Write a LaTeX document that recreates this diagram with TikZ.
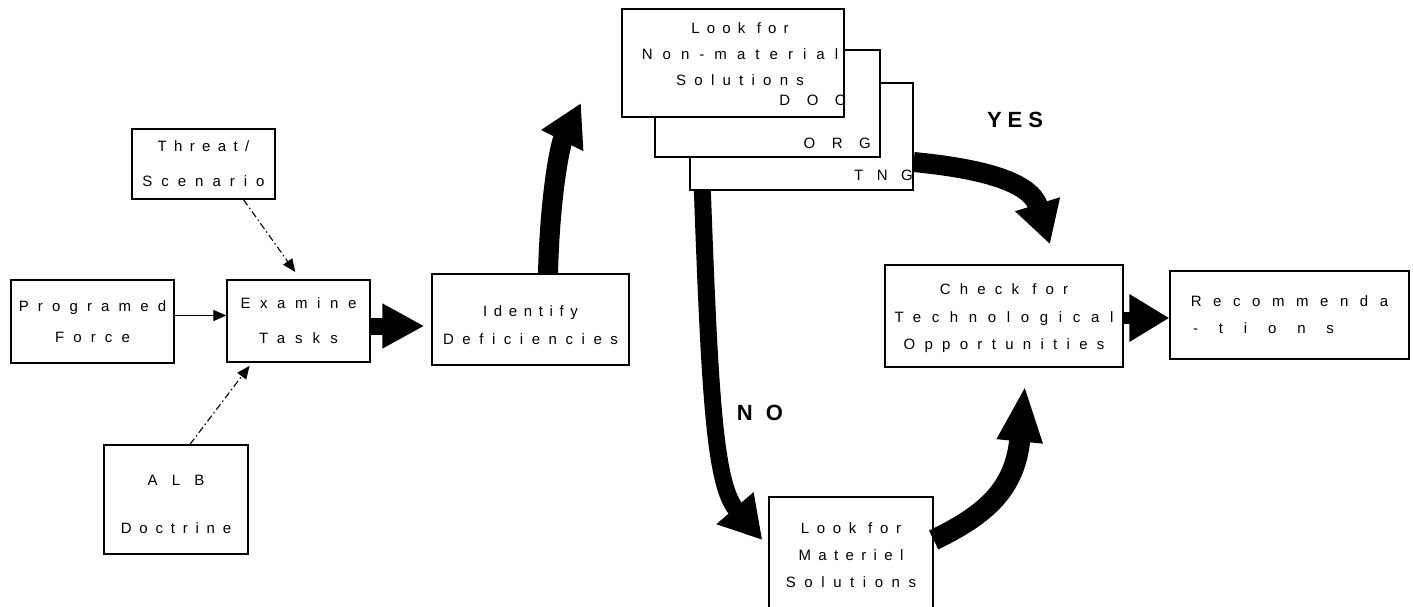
\documentclass[tikz,border=0pt]{standalone}
\usepackage{fontspec}
\setmainfont{Liberation Sans}
\usetikzlibrary{arrows.meta}

% letter-spaced text: \trk{<tracking in percent of the font size>}{<text>}
\newcommand{\trk}[2]{{\addfontfeature{LetterSpace=#1}#2}}
% invisible strut that pushes a text block down inside its box
\newcommand{\dropby}[1]{\rule{0pt}{#1}}

\tikzset{
  box/.style={draw, line width=1.3pt, fill=white, inner sep=0pt, align=center},
  lines/.style={font=\fontsize{15}{#1}\selectfont},
  tag/.style={inner sep=0pt, font=\fontsize{15}{18}\selectfont},
  answer/.style={inner sep=0pt, font=\fontsize{22}{26}\selectfont\bfseries},
  thin/.style={line width=1.1pt, -{Triangle[length=13pt,width=11pt]}},
  dashdot/.style={dash pattern=on 7pt off 3pt on 1.5pt off 3pt},
  fat/.style={line width=#1, line cap=butt},
}

\begin{document}
\begin{tikzpicture}[x=1pt, y=-1pt]
\useasboundingbox (0,0) rectangle (1413,607);
\clip (0,0) rectangle (1413,607);
\fill[white] (0,0) rectangle (1413,607);

% left-hand chain
\node[box, minimum width=143pt, minimum height=70pt, lines=35] (threat) at (203.5,164)
  {\trk{49}{Threat/}\\\trk{60}{Scenario}};
\node[box, minimum width=163pt, minimum height=83pt, lines=31] (prog) at (92.5,321.5)
  {\trk{61}{Programed}\\\trk{61}{Force}};
\node[box, minimum width=143pt, minimum height=82pt, lines=35] (exam) at (298.5,321)
  {\trk{64}{Examine}\\\trk{67}{Tasks}};
\node[box, minimum width=144pt, minimum height=109pt, lines=48] (alb) at (176,499.5)
  {\dropby{21pt}\trk{95}{ALB}\\\trk{52}{Doctrine}};
\node[box, minimum width=197pt, minimum height=91pt, lines=28] (ident) at (530.5,319.5)
  {\dropby{23pt}\trk{44}{Identify}\\\trk{57}{Deficiencies}};

% stacked non-materiel boxes
\node[box, minimum width=223pt, minimum height=107pt] (tng) at (801.5,136.5) {};
\node[box, minimum width=225pt, minimum height=107pt] (org) at (767.5,103.5) {};
\node[box, minimum width=222pt, minimum height=108pt] (doc) at (733,63) {};
\node[tag, anchor=east] (tnglbl) at (913,175) {\trk{90}{TNG}};
\node[tag, anchor=east] (orglbl) at (871,143) {\trk{110}{ORG}};
\node[tag, anchor=east] (doclbl) at (846,100) {\trk{110}{DOC}};
\node[inner sep=0pt, align=center, lines=26] (doctitle) at (740,54)
  {\trk{48}{Look for}\\\trk{67}{Non-material}\\\trk{55}{Solutions}};

% right-hand part
\node[box, minimum width=238pt, minimum height=102pt, lines=27.5] (check) at (1004,316)
  {\dropby{16pt}\trk{61}{Check for}\\\trk{71}{Technological}\\\trk{62}{Opportunities}};
\node[box, minimum width=239pt, minimum height=88pt, lines=27] (rec) at (1289.5,315)
  {\trk{77}{Recommenda}\\\trk{139}{-tions}\hspace*{52pt}};
\node[box, minimum width=164pt, minimum height=116pt, lines=27] (mat) at (851,555)
  {\trk{51}{Look for}\\\trk{49}{Materiel}\\\trk{57}{Solutions}};

\node[answer] (yes) at (1015,120) {\trk{27}{YES}};
\node[answer] (no) at (760,413) {\trk{60}{NO}};

% thin inputs
\coordinate (p1) at ([yshift=6pt]prog.east);
\draw[thin] (p1) -- (p1 -| exam.west);
\draw[thin, dashdot, shorten >=9pt] ([xshift=40pt]threat.south) -- ([xshift=2pt]exam.north);
\draw[thin, dashdot, shorten >=4pt] ([xshift=14pt]alb.north) -- ([xshift=-46.5pt]exam.south);

% heavy flow arrows
\coordinate (e1) at ([yshift=-5pt]exam.east);
\draw[fat=17pt, -{Triangle[length=42pt,width=42pt]}, shorten >=7pt] (e1) -- (e1 -| ident.west);
\coordinate (c1) at ([yshift=-2pt]check.east);
\draw[fat=12pt, -{Triangle[length=40pt,width=45pt]}] (c1) -- (c1 -| rec.west);

\coordinate (upend) at (581,103);
\draw[fat=20pt, -{Triangle[length=42pt,width=44pt]}]
  ([xshift=17.5pt]ident.north) .. controls (550,195) and (560,145) .. (upend);

\coordinate (noend) at ([xshift=-6pt,yshift=15pt]mat.west);
\draw[fat=17pt, -{Triangle[length=42pt,width=46pt]}]
  ([xshift=13pt]tng.south west) .. controls (710,400) and (715,485) .. (noend);

\coordinate (yesend) at ([xshift=46pt,yshift=20pt]check.north);
\draw[fat=20pt, -{Triangle[length=42pt,width=44pt]}]
  ([yshift=-25.5pt]tng.east) .. controls (975,168) and (1030,180) .. (yesend);

\coordinate (matend) at ([xshift=21pt,yshift=-18pt]check.south);
\draw[fat=21pt, -{Triangle[length=56pt,width=42pt]}]
  ([yshift=15pt]mat.east) .. controls (985,515) and (1015,490) .. (matend);
\end{tikzpicture}
\end{document}
